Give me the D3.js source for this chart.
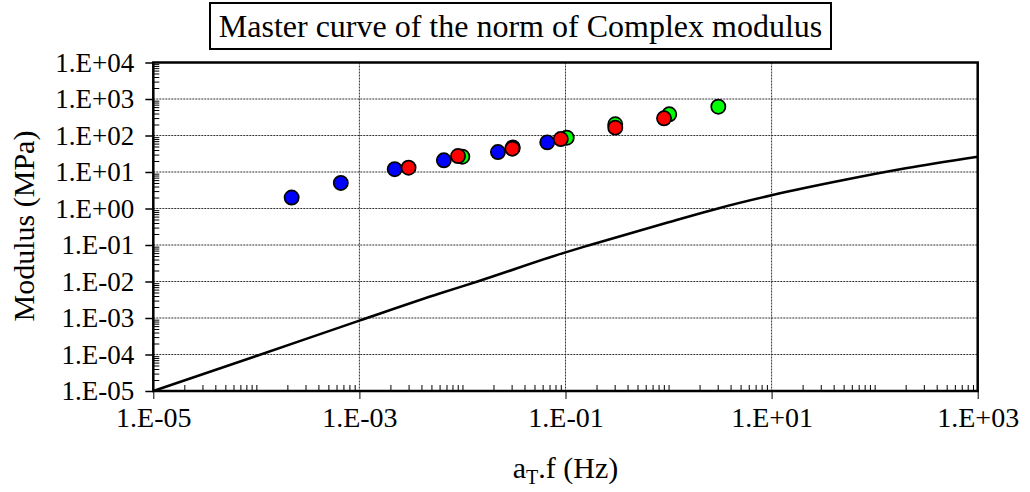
<!DOCTYPE html>
<html>
<head>
<meta charset="utf-8">
<script src="https://cdn.jsdelivr.net/npm/d3@7"></script>
<style>
  html, body { margin: 0; padding: 0; background: #fff; }
  svg { display: block; }
</style>
</head>
<body>
<svg id="chart" width="1030" height="492"></svg>
<script>
// ---- Data ----
const titleText = "Master curve of the norm of Complex modulus";
const xTickLabels = ["1.E-05", "1.E-03", "1.E-01", "1.E+01", "1.E+03"];
const yTickLabels = ["1.E-05", "1.E-04", "1.E-03", "1.E-02", "1.E-01", "1.E+00", "1.E+01", "1.E+02", "1.E+03", "1.E+04"];

// measured points: reduced frequency (Hz) and modulus (MPa)
const blueFreq  = [2.2e-4, 6.6e-4, 2.2e-3, 6.6e-3, 0.0221, 0.0665];
const blueMod   = [2.0, 5.0, 11.9, 20.9, 35.3, 65];
const greenFreq = [9.97e-3, 0.0308, 0.1028, 0.304, 1.016, 3.04];
const greenMod  = [26.2, 47, 87, 203, 381, 615];
const redFreq   = [3.0e-3, 9.06e-3, 0.0305, 0.090, 0.304, 0.904];
const redMod    = [13.1, 27.4, 43.5, 80, 164, 296];

// model curve
const curveFreq = [1e-5, 1e-4, 1e-3, 6.0e-3, 1.4e-2, 0.1, 0.173, 1, 3.08, 10, 53, 200, 1000];
const curveMod  = [1e-5, 9.1e-5, 8.5e-4, 4.7e-3, 1.0e-2, 0.063, 0.1, 0.42, 1.02, 2.3, 6.2, 12.6, 26.3];

// ---- Layout ----
const FONT = "'Liberation Serif', 'Times New Roman', 'DejaVu Serif', serif";
const plot = { left: 153.3, right: 977.7, top: 62.5, bottom: 391 };

const svg = d3.select("#chart");

const x = d3.scaleLog().domain([1e-5, 1e3]).range([plot.left, plot.right]);
const y = d3.scaleLog().domain([1e-5, 1e4]).range([plot.bottom, plot.top]);

const xMajor = xTickLabels.map((_, i) => Math.pow(10, -5 + 2 * i));
const yDecades = yTickLabels.map((_, i) => Math.pow(10, -5 + i));
const xMinor = [];
for (let e = -5; e < 3; e++) for (let k = 2; k <= 10; k++) {
  if (!(k === 10 && e % 2 === 0)) xMinor.push(k * Math.pow(10, e));
}
const yMinor = [];
for (let e = -5; e < 4; e++) for (let k = 2; k <= 9; k++) yMinor.push(k * Math.pow(10, e));

// ---- Grid ----
const grid = svg.append("g");
grid.selectAll("line.h").data(yDecades.slice(1, -1)).enter().append("line")
  .attr("x1", plot.left).attr("x2", plot.right)
  .attr("y1", d => y(d)).attr("y2", d => y(d))
  .attr("stroke", "#333").attr("stroke-width", 1).attr("stroke-dasharray", "2,1");
grid.selectAll("line.v").data(xMajor.slice(1, -1)).enter().append("line")
  .attr("y1", plot.top).attr("y2", plot.bottom)
  .attr("x1", d => x(d)).attr("x2", d => x(d))
  .attr("stroke", "#333").attr("stroke-width", 1).attr("stroke-dasharray", "2,1");

// ---- Minor ticks (inside) ----
svg.append("g").attr("transform", `translate(0,${plot.bottom})`)
  .call(d3.axisBottom(x).tickValues(xMinor).tickSize(-6).tickFormat(""))
  .call(g => g.select(".domain").remove())
  .selectAll("line").attr("stroke", "#000").attr("stroke-width", 1);
svg.append("g").attr("transform", `translate(${plot.left},0)`)
  .call(d3.axisLeft(y).tickValues(yMinor).tickSize(-6).tickFormat(""))
  .call(g => g.select(".domain").remove())
  .selectAll("line").attr("stroke", "#000").attr("stroke-width", 1);

// ---- Major axes ----
const gx = svg.append("g").attr("transform", `translate(0,${plot.bottom})`)
  .call(d3.axisBottom(x).tickValues(xMajor).tickSize(8).tickPadding(8)
    .tickFormat((d, i) => xTickLabels[i]));
gx.select(".domain").remove();
gx.attr("font-family", FONT).attr("font-size", 28);
gx.selectAll("line").attr("stroke", "#000").attr("stroke-width", 1);
gx.selectAll("text").attr("fill", "#000").attr("font-family", FONT).attr("font-size", 28);

const gy = svg.append("g").attr("transform", `translate(${plot.left},0)`)
  .call(d3.axisLeft(y).tickValues(yDecades).tickSize(8).tickPadding(11)
    .tickFormat((d, i) => yTickLabels[i]));
gy.select(".domain").remove();
gy.attr("font-family", FONT).attr("font-size", 27);
gy.selectAll("line").attr("stroke", "#000").attr("stroke-width", 1.5);
gy.selectAll("text").attr("fill", "#000").attr("font-family", FONT).attr("font-size", 27);

// ---- Plot border ----
svg.append("rect")
  .attr("x", plot.left).attr("y", plot.top)
  .attr("width", plot.right - plot.left).attr("height", plot.bottom - plot.top)
  .attr("fill", "none").attr("stroke", "#000").attr("stroke-width", 2.5);

// ---- Curve ----
const curveData = curveFreq.map((f, i) => [f, curveMod[i]]);
svg.append("path")
  .datum(curveData)
  .attr("fill", "none").attr("stroke", "#000").attr("stroke-width", 2.5)
  .attr("d", d3.line().x(d => x(d[0])).y(d => y(d[1])).curve(d3.curveMonotoneX));

// ---- Points ----
const series = [
  { f: greenFreq, m: greenMod, color: "#00FF00" },
  { f: blueFreq,  m: blueMod,  color: "#0000FF" },
  { f: redFreq,   m: redMod,   color: "#FF0000" }
];
series.forEach(s => {
  svg.append("g").selectAll("circle")
    .data(s.f.map((f, i) => [f, s.m[i]]))
    .enter().append("circle")
    .attr("cx", d => x(d[0])).attr("cy", d => y(d[1]))
    .attr("r", 7.1)
    .attr("fill", s.color).attr("stroke", "#000").attr("stroke-width", 1.7);
});

// ---- Title box ----
svg.append("rect").attr("x", 210).attr("y", 3).attr("width", 621).attr("height", 46)
  .attr("fill", "#fff").attr("stroke", "#000").attr("stroke-width", 2);
svg.append("text").attr("x", 520.5).attr("y", 37).attr("text-anchor", "middle")
  .attr("font-family", FONT).attr("font-size", 32).attr("fill", "#000").text(titleText);

// ---- Axis titles ----
svg.append("text").attr("transform", `translate(34,226) rotate(-90)`)
  .attr("text-anchor", "middle").attr("font-family", FONT).attr("font-size", 30)
  .attr("fill", "#000").text("Modulus (MPa)");

const xt = svg.append("text").attr("x", 565.5).attr("y", 478).attr("text-anchor", "middle")
  .attr("font-family", FONT).attr("font-size", 30).attr("fill", "#000");
xt.append("tspan").text("a");
xt.append("tspan").attr("dy", 6).attr("font-size", 20).text("T");
xt.append("tspan").attr("dy", -6).text(".f (Hz)");
</script>
</body>
</html>
